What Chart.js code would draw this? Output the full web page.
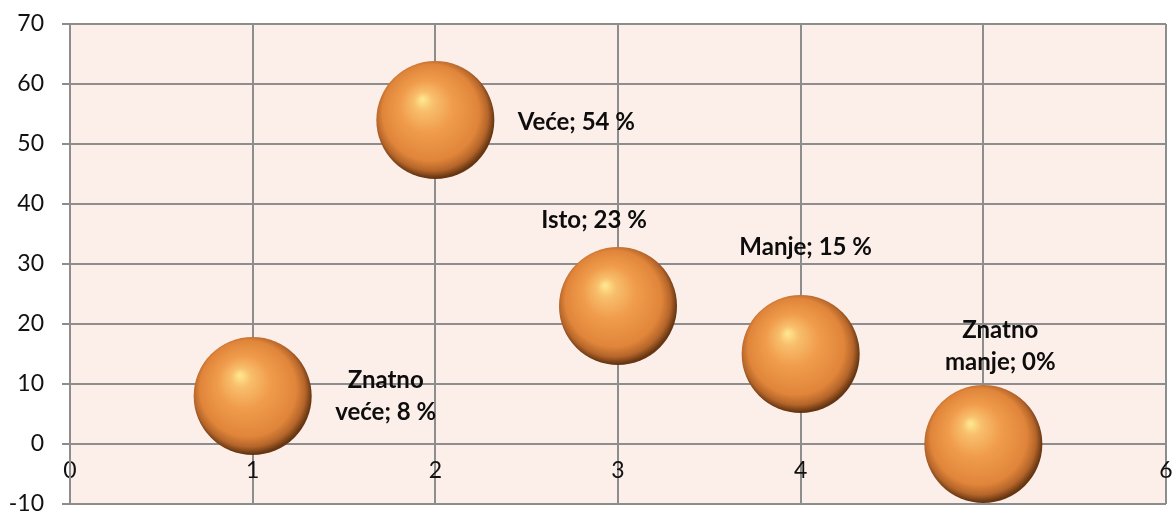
<!DOCTYPE html>
<html>
<head>
<meta charset="utf-8">
<script src="https://cdn.jsdelivr.net/npm/chart.js@4.4.0/dist/chart.umd.min.js"></script>
<style>
    html, body { margin: 0; padding: 0; background: #ffffff; }
    #wrap { width: 1173px; height: 513px; }
</style>
</head>
<body>
<div id="wrap"><canvas id="grafico"></canvas></div>
<script>
// Datos del gráfico
const xValues = [1, 2, 3, 4, 5];
const yValues = [8, 54, 23, 15, 0];
const pointLabels = ["Znatno\nveće; 8 %", "Veće; 54 %", "Isto; 23 %", "Manje; 15 %", "Znatno\nmanje; 0%"];

// Estilo
const BUBBLE_R = 59;
const GRID = "#8d8d8d";
const FONT = "Lato, 'Open Sans', sans-serif";
// desplazamiento de cada etiqueta respecto al centro de la burbuja (px)
const labelOffsets = [[133, 0], [141, 2], [-24, -86], [5, -107], [17, -98]];

// Fondo del área de trazado
const plotBg = {
    id: "plotBg",
    beforeDraw(chart) {
        const { ctx, chartArea: a } = chart;
        ctx.save();
        ctx.fillStyle = "#fcefea";
        ctx.fillRect(a.left, a.top, a.right - a.left, a.bottom - a.top);
        ctx.restore();
    }
};

// Etiquetas de datos
const dataLabels = {
    id: "dataLabels",
    afterDatasetsDraw(chart) {
        const ctx = chart.ctx;
        const meta = chart.getDatasetMeta(0);
        ctx.save();
        ctx.font = "bold 24px " + FONT;
        ctx.fillStyle = "#0d0d0d";
        ctx.textAlign = "center";
        ctx.textBaseline = "middle";
        meta.data.forEach((el, i) => {
            const lines = pointLabels[i].split("\n");
            const lh = 32;
            const cx = el.x + labelOffsets[i][0];
            const cy = el.y + labelOffsets[i][1] - (lines.length - 1) * lh / 2;
            lines.forEach((t, j) => ctx.fillText(t, cx, cy + j * lh));
        });
        ctx.restore();
    }
};

function bubbleFill(c) {
    const chart = c.chart;
    if (c.type !== "data" || !chart.chartArea) return "#ef9a4f";
    const x = chart.scales.x.getPixelForValue(c.raw.x);
    const y = chart.scales.y.getPixelForValue(c.raw.y);
    const r = c.raw.r;
    const g = chart.ctx.createRadialGradient(x - r * 0.22, y - r * 0.35, r * 0.02, x - r * 0.04, y - r * 0.06, r * 1.04);
    g.addColorStop(0, "#ffe48e");
    g.addColorStop(0.14, "#f8bf6c");
    g.addColorStop(0.42, "#f09c4c");
    g.addColorStop(0.78, "#e0853a");
    g.addColorStop(0.91, "#b5652a");
    g.addColorStop(1, "#663612");
    return g;
}

new Chart(document.getElementById("grafico"), {
    type: "bubble",
    data: {
        datasets: [{
            data: xValues.map((x, i) => ({ x: x, y: yValues[i], r: BUBBLE_R })),
            backgroundColor: bubbleFill,
            borderWidth: 0,
            hoverBorderWidth: 0
        }]
    },
    options: {
        responsive: true,
        maintainAspectRatio: false,
        animation: false,
        events: [],
        layout: { autoPadding: false, padding: { top: 24, right: 7, bottom: 9, left: 0 } },
        plugins: {
            legend: { display: false },
            tooltip: { enabled: false }
        },
        scales: {
            x: {
                type: "linear",
                position: { y: 0 },
                min: 0,
                max: 6,
                z: 1,
                afterFit: s => { s.paddingLeft = 0; s.paddingRight = 0; },
                ticks: { stepSize: 1, color: "#111111", padding: 5, font: { family: FONT, size: 23 } },
                grid: { color: GRID, lineWidth: 2, tickLength: 8 },
                border: { color: GRID, width: 2 }
            },
            y: {
                type: "linear",
                min: -10,
                max: 70,
                afterFit: s => { s.width = 70; s.paddingTop = 0; s.paddingBottom = 0; },
                ticks: { stepSize: 10, color: "#111111", padding: 18, font: { family: FONT, size: 23 } },
                grid: { color: GRID, lineWidth: 2, tickLength: 8 },
                border: { color: GRID, width: 2 }
            }
        }
    },
    plugins: [plotBg, dataLabels]
});
</script>
</body>
</html>
